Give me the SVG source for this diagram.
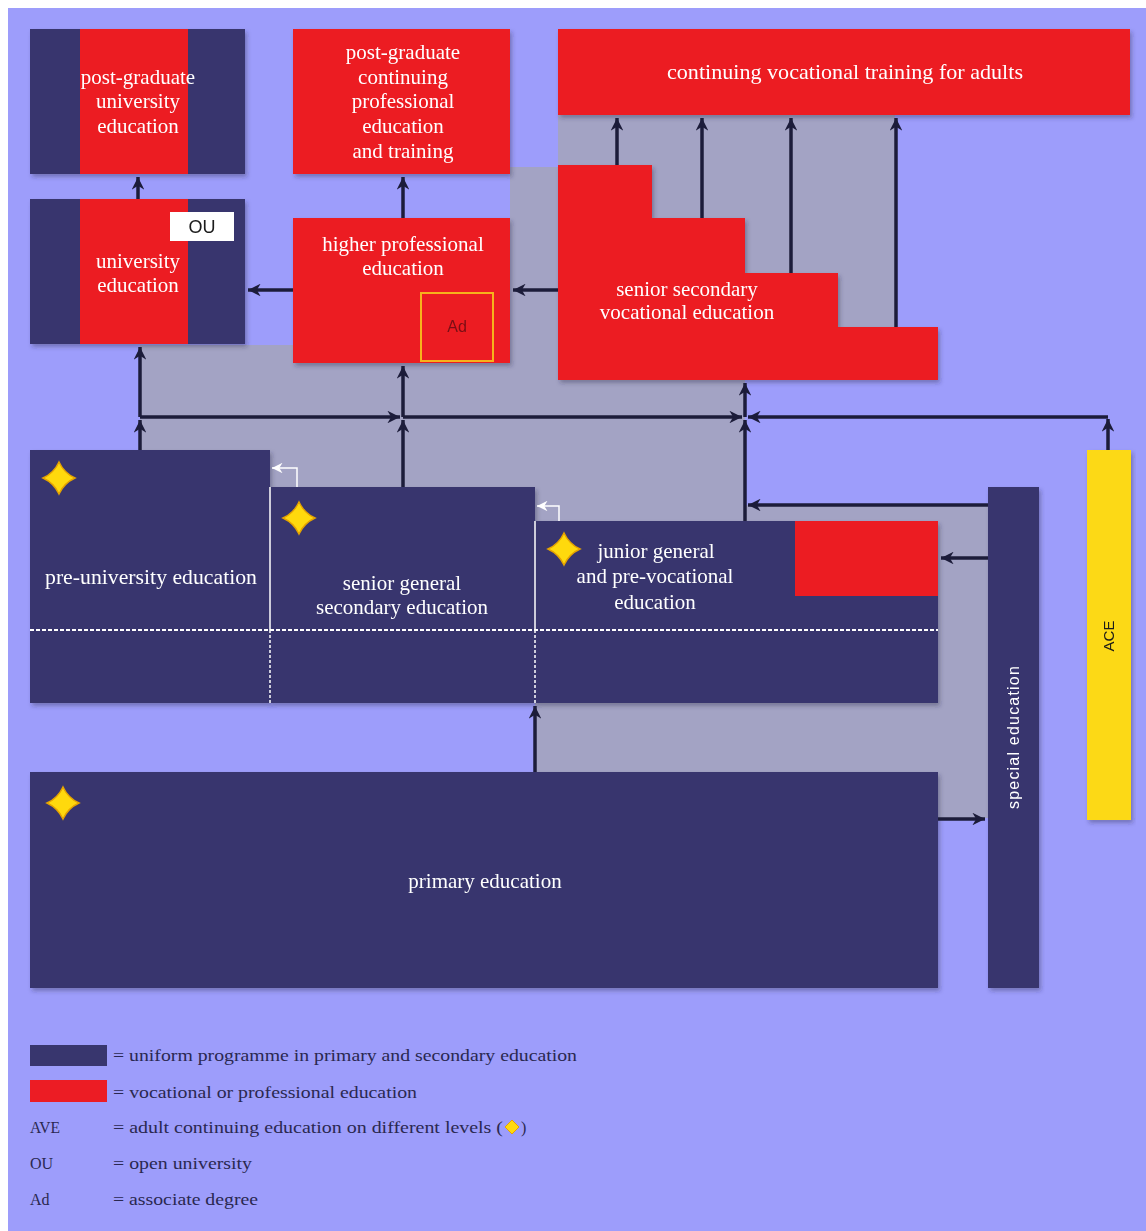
<svg xmlns="http://www.w3.org/2000/svg" width="1146" height="1231" viewBox="0 0 1146 1231">
<style>
.navy{fill:#38366e}
.red{fill:#ec1c24}
.box{filter:url(#sh)}
.t{font-family:"Liberation Serif",serif;font-size:21px;fill:#ffffff;text-anchor:middle}
.lg{font-family:"Liberation Serif",serif;font-size:16px;fill:#2a2850}
.cn{fill:none;stroke:#1c1c3a;stroke-width:3.5}
.wa{fill:none;stroke:#ffffff;stroke-width:1.5}
.star{fill:#ffd90f;stroke:#e6a400;stroke-width:1.5}
</style>
<defs>
<filter id="sh" x="-5%" y="-5%" width="115%" height="115%">
<feDropShadow dx="2" dy="3" stdDeviation="2" flood-color="#2a2a40" flood-opacity="0.35"/>
</filter>
<marker id="ah" viewBox="0 0 10 10" refX="10" refY="5" markerWidth="4.2" markerHeight="3.6" orient="auto" markerUnits="strokeWidth">
<path d="M0,0 L10,5 L0,10 L3,5 Z" fill="#1c1c3a"/>
</marker>
<marker id="wh" viewBox="0 0 10 10" refX="10" refY="5" markerWidth="8" markerHeight="7" orient="auto" markerUnits="strokeWidth">
<path d="M0,0 L10,5 L0,10 L3,5 Z" fill="#ffffff"/>
</marker>
<path id="st" d="M0,-16 Q5,-5 16,0 Q5,5 0,16 Q-5,5 -16,0 Q-5,-5 0,-16 Z"/>
</defs>

<rect x="0" y="0" width="1146" height="1231" fill="#ffffff"/>
<rect x="8" y="8" width="1138" height="1223" fill="#9d9dfb"/>

<g id="grey-area" fill="#a3a3c4">
<rect x="140" y="345" width="418" height="72"/>
<rect x="510" y="167" width="48" height="213"/>
<rect x="558" y="115" width="337" height="265"/>
<rect x="140" y="380" width="605" height="141"/>
<rect x="745" y="505" width="243" height="313"/>
<rect x="535" y="703" width="453" height="69"/>
</g>

<g id="node-postgrad-univ" class="box">
<rect x="30" y="29" width="215" height="145" class="navy"/>
<rect x="80" y="29" width="108" height="145" class="red"/>
<text class="t" x="138" y="84">post-graduate</text>
<text class="t" x="138" y="108">university</text>
<text class="t" x="138" y="133">education</text>
</g>

<g id="node-univ" class="box">
<rect x="30" y="199" width="215" height="145" class="navy"/>
<rect x="80" y="199" width="108" height="145" class="red"/>
<rect x="170" y="212" width="64" height="29" fill="#ffffff"/>
<text x="202" y="233" font-family="Liberation Sans,sans-serif" font-size="18" fill="#1a1a1a" text-anchor="middle">OU</text>
<text class="t" x="138" y="268">university</text>
<text class="t" x="138" y="292">education</text>
</g>

<g id="node-postgrad-cont" class="box">
<rect x="293" y="29" width="217" height="145" class="red"/>
<text class="t" x="403" y="59">post-graduate</text>
<text class="t" x="403" y="84">continuing</text>
<text class="t" x="403" y="108">professional</text>
<text class="t" x="403" y="133">education</text>
<text class="t" x="403" y="158">and training</text>
</g>

<g id="node-higher-prof" class="box">
<rect x="293" y="218" width="217" height="145" class="red"/>
<text class="t" x="403" y="251">higher professional</text>
<text class="t" x="403" y="275">education</text>
<rect x="421" y="293" width="72" height="68" fill="none" stroke="#f7b21c" stroke-width="2"/>
<text x="457" y="332" font-family="Liberation Sans,sans-serif" font-size="16" fill="#7a1014" text-anchor="middle">Ad</text>
</g>

<g id="node-cont-voc" class="box">
<rect x="558" y="29" width="572" height="86" class="red"/>
<text class="t" x="845" y="79" textLength="356" lengthAdjust="spacingAndGlyphs">continuing vocational training for adults</text>
</g>

<g id="node-senior-sec-voc" class="box">
<path d="M558,165 H652 V218 H745 V273 H838 V327 H938 V380 H558 Z" class="red"/>
<text class="t" x="687" y="296">senior secondary</text>
<text class="t" x="687" y="319">vocational education</text>
</g>

<g id="node-pre-univ" class="box">
<rect x="30" y="450" width="240" height="253" class="navy"/>
<use href="#st" x="59" y="478" class="star"/>
<text class="t" x="151" y="584" textLength="212" lengthAdjust="spacingAndGlyphs">pre-university education</text>
</g>

<g id="node-senior-gen" class="box">
<rect x="270" y="487" width="265" height="216" class="navy"/>
<use href="#st" x="299" y="518" class="star"/>
<text class="t" x="402" y="590">senior general</text>
<text class="t" x="402" y="614">secondary education</text>
</g>

<g id="node-junior" class="box">
<rect x="535" y="521" width="403" height="182" class="navy"/>
<rect x="795" y="521" width="143" height="75" class="red"/>
<use href="#st" x="564" y="549" class="star"/>
<text class="t" x="656" y="558">junior general</text>
<text class="t" x="655" y="583">and  pre-vocational</text>
<text class="t" x="655" y="609">education</text>
</g>

<g id="separators" stroke="#ffffff" fill="none">
<line x1="30" y1="630" x2="938" y2="630" stroke-width="2" stroke-dasharray="4,2"/>
<line x1="270" y1="487" x2="270" y2="630" stroke-width="1.5"/>
<line x1="270" y1="630" x2="270" y2="703" stroke-width="1.5" stroke-dasharray="3,2"/>
<line x1="535" y1="521" x2="535" y2="630" stroke-width="1.5"/>
<line x1="535" y1="630" x2="535" y2="703" stroke-width="1.5" stroke-dasharray="3,2"/>
</g>

<g id="node-primary" class="box">
<rect x="30" y="772" width="908" height="216" class="navy"/>
<use href="#st" x="63" y="803" class="star"/>
<text class="t" x="485" y="888">primary education</text>
</g>

<g id="node-special" class="box">
<rect x="988" y="487" width="51" height="501" class="navy"/>
<text x="0" y="0" transform="translate(1019,737) rotate(-90)" font-family="Liberation Sans,sans-serif" font-size="16" fill="#ffffff" text-anchor="middle" letter-spacing="1.2">special education</text>
</g>

<g id="node-ace" class="box">
<rect x="1087" y="450" width="44" height="370" fill="#fcd919"/>
<text x="0" y="0" transform="translate(1114,636) rotate(-90)" font-family="Liberation Sans,sans-serif" font-size="15" fill="#1a1a1a" text-anchor="middle">ACE</text>
</g>

<g id="connectors">
<path class="cn" d="M138,199 V177" marker-end="url(#ah)"/>
<path class="cn" d="M403,218 V177" marker-end="url(#ah)"/>
<path class="cn" d="M293,290 H248" marker-end="url(#ah)"/>
<path class="cn" d="M558,290 H513" marker-end="url(#ah)"/>
<path class="cn" d="M617,165 V118" marker-end="url(#ah)"/>
<path class="cn" d="M702,218 V118" marker-end="url(#ah)"/>
<path class="cn" d="M791,273 V118" marker-end="url(#ah)"/>
<path class="cn" d="M896,327 V118" marker-end="url(#ah)"/>
<path class="cn" d="M140,450 V420" marker-end="url(#ah)"/>
<path class="cn" d="M140,417 V347" marker-end="url(#ah)"/>
<path class="cn" d="M140,417 H400" marker-end="url(#ah)"/>
<path class="cn" d="M403,417 H742" marker-end="url(#ah)"/>
<path class="cn" d="M1108,417 H748" marker-end="url(#ah)"/>
<path class="cn" d="M1108,450 V419" marker-end="url(#ah)"/>
<path class="cn" d="M403,487 V420" marker-end="url(#ah)"/>
<path class="cn" d="M403,417 V366" marker-end="url(#ah)"/>
<path class="cn" d="M745,521 V420" marker-end="url(#ah)"/>
<path class="cn" d="M745,417 V383" marker-end="url(#ah)"/>
<path class="cn" d="M988,505 H748" marker-end="url(#ah)"/>
<path class="cn" d="M988,558 H941" marker-end="url(#ah)"/>
<path class="cn" d="M938,819 H985" marker-end="url(#ah)"/>
<path class="cn" d="M535,772 V706" marker-end="url(#ah)"/>
<path class="wa" d="M297,487 V468 H272" marker-end="url(#wh)"/>
<path class="wa" d="M559,521 V506 H537" marker-end="url(#wh)"/>
</g>

<g id="legend">
<rect x="30" y="1045" width="77" height="21" class="navy"/>
<text class="lg" x="113" y="1061" textLength="464" lengthAdjust="spacingAndGlyphs">= uniform programme in primary and secondary education</text>
<rect x="30" y="1080" width="77" height="22" class="red"/>
<text class="lg" x="113" y="1098" textLength="304" lengthAdjust="spacingAndGlyphs">= vocational or professional education</text>
<text class="lg" x="30" y="1133" textLength="30" lengthAdjust="spacingAndGlyphs">AVE</text>
<text class="lg" x="113" y="1133" textLength="390" lengthAdjust="spacingAndGlyphs">= adult continuing education on different levels (</text>
<path d="M512,1120 L519,1127 L512,1134 L505,1127 Z" fill="#ffd90f" stroke="#e6a400" stroke-width="1"/>
<text class="lg" x="521" y="1133">)</text>
<text class="lg" x="30" y="1169">OU</text>
<text class="lg" x="113" y="1169" textLength="139" lengthAdjust="spacingAndGlyphs">= open university</text>
<text class="lg" x="30" y="1205">Ad</text>
<text class="lg" x="113" y="1205" textLength="145" lengthAdjust="spacingAndGlyphs">= associate degree</text>
</g>
</svg>
